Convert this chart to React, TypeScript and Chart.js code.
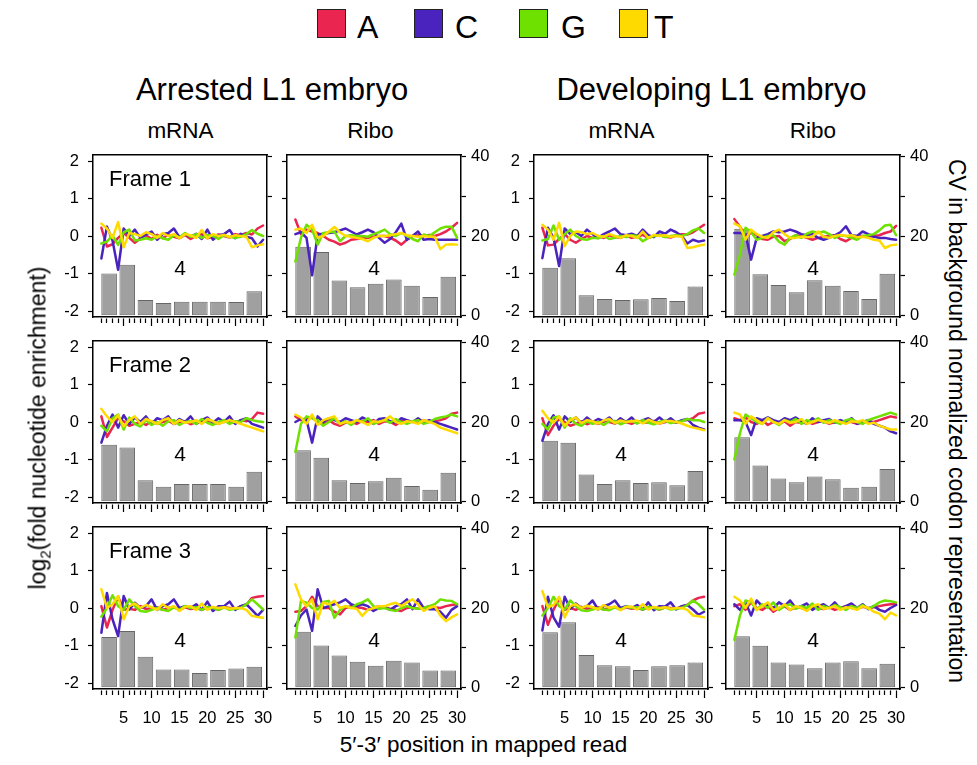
import React, { useEffect, useRef } from 'react';
import { Chart, registerables } from 'chart.js';

Chart.register(...registerables);

const FONT = "'Liberation Sans', Arial, Helvetica, sans-serif";

// Positions along the mapped read (5'->3')
const positions = [1, 2, 3, 4, 5, 6, 7, 8, 9, 10, 11, 12, 13, 14, 15, 16, 17, 18, 19, 20, 21, 22, 23, 24, 25, 26, 27, 28, 29, 30];
// Codon windows used for the CV bars
const codonWindows = [1, 2, 3, 4, 5, 6, 7, 8, 9];
const positionTickLabels = [5, 10, 15, 20, 25, 30];
const log2Ticks = [-2, -1, 0, 1, 2];
const cvTicks = [0, 10, 20, 30, 40];
const cvTickLabels = [0, 20, 40];

const nucleotides = ['A', 'C', 'G', 'T'];
const nucleotideColors = ['#e92550', '#4a23be', '#6ee100', '#ffda00'];

const groupTitles = ['Arrested L1 embryo', 'Developing L1 embryo'];
const libraryNames = ['mRNA', 'Ribo', 'mRNA', 'Ribo'];
const frameNames = ['Frame 1', 'Frame 2', 'Frame 3'];
const windowLabel = '4';

// ---- Arrested L1, mRNA ----
const arrMrna1A = [0.22, -0.28, -0.22, -0.05, 0.08, -0.05, -0.18, -0.06, 0.02, -0.08, 0.03, -0.06, 0.04, -0.02, -0.06, 0.03, -0.08, 0.0, 0.05, -0.06, -0.02, 0.04, 0.0, -0.04, 0.05, 0.02, 0.08, 0.04, 0.2, 0.28];
const arrMrna1C = [-0.6, 0.25, -0.12, -0.9, 0.2, 0.0, 0.17, -0.05, 0.04, 0.12, -0.1, 0.05, 0.08, 0.2, -0.03, 0.05, -0.02, 0.06, -0.08, 0.17, -0.1, 0.02, 0.05, 0.16, -0.06, 0.06, -0.02, -0.06, -0.28, -0.1];
const arrMrna1G = [-0.2, -0.15, 0.02, -0.24, 0.1, 0.17, -0.12, -0.1, -0.06, -0.1, 0.0, -0.06, -0.1, 0.02, -0.04, 0.08, -0.02, 0.05, -0.05, 0.03, 0.0, -0.08, 0.02, -0.03, -0.05, -0.02, 0.05, 0.16, 0.06, 0.0];
const arrMrna1T = [0.33, 0.2, -0.05, 0.37, -0.3, 0.08, 0.05, 0.0, 0.1, 0.05, -0.05, 0.08, 0.0, 0.05, -0.06, 0.05, 0.02, -0.05, 0.16, -0.06, 0.05, 0.0, 0.03, -0.03, 0.02, 0.0, -0.02, -0.3, -0.25, -0.22];
const arrMrna1Cv = [10.6, 12.8, 3.95, 3.2, 3.5, 3.5, 3.5, 3.4, 6.15];

const arrMrna2A = [0.15, -0.4, -0.15, 0.1, 0.02, -0.1, -0.05, 0.0, -0.08, 0.02, -0.05, 0.0, 0.03, -0.05, 0.0, 0.02, -0.06, 0.0, -0.02, 0.03, 0.0, -0.05, 0.02, 0.0, -0.03, 0.05, 0.02, 0.08, 0.25, 0.22];
const arrMrna2C = [-0.55, -0.1, 0.2, -0.15, 0.18, -0.05, 0.12, 0.0, 0.15, -0.05, 0.1, 0.05, 0.15, -0.05, 0.08, 0.0, 0.15, -0.05, 0.05, 0.12, -0.02, 0.1, 0.0, 0.15, -0.05, 0.05, 0.1, -0.05, -0.1, -0.15];
const arrMrna2G = [-0.1, -0.25, 0.1, 0.2, -0.2, 0.12, -0.05, -0.12, 0.05, -0.08, 0.0, -0.1, 0.02, 0.05, -0.08, 0.0, 0.02, -0.05, 0.08, -0.02, -0.08, 0.0, 0.05, -0.05, 0.02, 0.0, 0.1, 0.05, 0.02, 0.0];
const arrMrna2T = [0.35, 0.15, 0.0, 0.18, -0.12, 0.05, 0.15, -0.05, 0.08, 0.02, -0.05, 0.05, 0.1, -0.05, 0.05, -0.02, 0.0, 0.05, -0.05, 0.08, 0.02, -0.05, 0.0, 0.05, 0.0, -0.05, -0.1, -0.15, -0.2, -0.25];
const arrMrna2Cv = [14.3, 13.6, 5.35, 3.75, 4.4, 4.4, 4.4, 3.75, 7.5];

const arrMrna3A = [0.05, -0.52, -0.05, 0.3, -0.05, -0.02, -0.05, 0.05, -0.03, 0.0, 0.02, -0.05, 0.0, 0.03, -0.05, 0.02, -0.03, 0.0, -0.05, 0.02, 0.0, -0.05, 0.03, 0.0, -0.03, 0.05, 0.08, 0.27, 0.3, 0.32];
const arrMrna3C = [-0.66, 0.4, -0.3, -0.75, 0.32, -0.04, 0.14, 0.0, 0.05, 0.23, -0.05, 0.05, 0.1, 0.23, 0.0, 0.05, 0.0, 0.1, -0.05, 0.17, -0.08, 0.05, 0.05, 0.17, -0.05, 0.05, 0.1, -0.05, -0.21, -0.05];
const arrMrna3G = [-0.23, 0.0, 0.34, 0.05, -0.05, 0.23, 0.05, -0.08, -0.1, -0.05, 0.0, -0.05, -0.08, 0.02, -0.05, 0.05, 0.0, 0.02, -0.05, 0.03, 0.0, -0.05, 0.02, -0.05, -0.02, 0.0, 0.1, 0.23, 0.1, -0.04];
const arrMrna3T = [0.5, 0.0, 0.1, 0.32, -0.3, 0.05, 0.12, 0.0, 0.08, 0.02, -0.05, 0.1, 0.0, 0.05, -0.08, 0.03, 0.05, -0.05, 0.12, -0.05, 0.03, 0.0, 0.02, -0.02, 0.0, 0.0, -0.05, -0.21, -0.24, -0.26];
const arrMrna3Cv = [12.7, 14.2, 7.75, 4.55, 4.55, 3.7, 4.4, 4.8, 5.25];

// ---- Arrested L1, Ribo ----
const arrRibo1A = [0.44, 0.05, 0.17, 0.12, 0.08, 0.0, -0.1, -0.15, -0.23, -0.18, -0.1, -0.08, -0.06, -0.05, -0.02, 0.0, 0.0, -0.05, -0.12, -0.23, -0.1, 0.0, 0.02, 0.0, 0.03, 0.0, 0.05, 0.12, 0.22, 0.35];
const arrRibo1C = [0.05, 0.1, -0.05, -1.05, 0.04, 0.06, 0.08, 0.1, 0.15, 0.2, 0.12, 0.04, 0.1, 0.17, 0.1, -0.05, -0.18, -0.08, 0.1, 0.33, -0.1, 0.0, 0.12, -0.1, -0.08, -0.1, -0.1, -0.1, -0.1, -0.1];
const arrRibo1G = [-0.68, -0.05, 0.3, 0.17, -0.23, 0.08, 0.1, 0.12, -0.14, 0.0, 0.02, 0.0, 0.0, -0.02, 0.05, 0.1, 0.17, 0.05, 0.0, 0.08, 0.0, -0.08, -0.14, 0.04, 0.0, 0.1, 0.2, 0.25, 0.25, -0.05];
const arrRibo1T = [0.17, 0.2, 0.08, 0.3, -0.05, 0.0, 0.12, 0.24, 0.1, 0.0, -0.02, -0.05, -0.08, -0.14, -0.05, 0.0, 0.0, 0.02, 0.05, 0.08, 0.02, 0.0, -0.02, 0.0, -0.02, -0.02, -0.35, -0.23, -0.22, -0.23];
const arrRibo1Cv = [17.3, 16.0, 8.8, 7.15, 8.0, 9.05, 7.5, 4.7, 9.75];

const arrRibo2A = [0.15, 0.05, 0.1, 0.12, 0.0, -0.05, 0.05, -0.05, -0.1, -0.02, 0.0, -0.05, 0.03, 0.0, 0.05, -0.05, 0.02, 0.0, -0.08, 0.03, 0.0, 0.02, -0.03, 0.05, 0.0, 0.02, 0.05, 0.1, 0.22, 0.25];
const arrRibo2C = [0.0, 0.08, 0.05, -0.55, 0.15, 0.0, 0.1, 0.05, 0.0, 0.1, 0.05, 0.0, 0.12, 0.05, -0.05, 0.08, 0.1, 0.02, -0.02, 0.1, 0.05, 0.0, 0.1, -0.02, 0.05, 0.0, -0.05, -0.1, -0.15, -0.2];
const arrRibo2G = [-0.8, -0.05, 0.15, 0.1, 0.05, -0.1, 0.0, 0.1, -0.05, 0.02, -0.08, 0.05, 0.0, 0.1, -0.05, 0.0, 0.05, -0.02, 0.08, 0.0, -0.05, 0.02, 0.05, -0.05, 0.0, 0.08, 0.12, 0.15, 0.2, 0.15];
const arrRibo2T = [0.2, 0.12, -0.05, 0.2, -0.08, 0.05, 0.1, 0.15, -0.05, 0.0, -0.02, 0.05, 0.0, -0.08, 0.02, 0.0, 0.05, 0.15, 0.0, -0.05, 0.02, 0.0, -0.05, 0.05, 0.0, -0.05, -0.15, -0.2, -0.25, -0.3];
const arrRibo2Cv = [12.9, 11.0, 5.35, 4.7, 5.15, 6.0, 3.9, 3.0, 7.25];

const arrRibo3A = [-0.1, -0.08, 0.05, 0.3, 0.05, 0.0, 0.0, -0.1, -0.17, 0.0, 0.05, 0.02, 0.0, -0.05, 0.0, 0.05, 0.02, -0.02, -0.05, -0.08, 0.0, 0.02, -0.02, 0.0, 0.05, 0.02, 0.0, 0.05, 0.08, 0.1];
const arrRibo3C = [-0.48, -0.2, -0.04, -0.61, 0.5, 0.0, 0.05, 0.1, 0.15, 0.23, 0.1, 0.05, 0.1, 0.05, -0.08, 0.0, 0.02, -0.05, 0.05, 0.1, 0.23, -0.03, 0.23, 0.0, -0.03, -0.03, -0.1, -0.26, -0.05, 0.05];
const arrRibo3G = [-0.79, 0.19, 0.14, 0.0, -0.04, 0.16, 0.19, -0.26, -0.05, 0.05, 0.0, 0.1, 0.15, 0.23, 0.05, -0.02, 0.0, -0.05, -0.08, 0.0, 0.05, 0.0, -0.02, 0.0, 0.05, 0.1, 0.23, 0.2, 0.19, 0.1];
const arrRibo3T = [0.63, 0.23, 0.05, 0.23, -0.3, 0.14, 0.1, 0.19, 0.0, 0.05, 0.0, -0.02, -0.21, -0.05, 0.0, 0.05, 0.05, 0.1, 0.14, 0.05, 0.15, 0.23, 0.1, -0.08, 0.0, 0.05, -0.2, -0.35, -0.25, -0.17];
const arrRibo3Cv = [14.05, 10.6, 8.1, 6.5, 5.5, 6.75, 6.3, 4.3, 4.3];

// ---- Developing L1, mRNA ----
const devMrna1A = [0.22, -0.25, -0.23, -0.08, 0.05, -0.1, -0.18, -0.08, 0.0, -0.05, 0.0, -0.05, 0.02, -0.03, -0.05, 0.02, -0.05, -0.02, 0.03, -0.05, 0.0, 0.03, -0.02, -0.04, 0.02, 0.05, 0.04, 0.1, 0.2, 0.3];
const devMrna1C = [-0.59, 0.22, -0.05, -0.8, 0.2, 0.05, 0.1, 0.0, 0.17, 0.05, -0.05, 0.05, 0.12, 0.2, 0.05, 0.02, 0.06, 0.0, 0.17, 0.02, -0.03, 0.12, 0.06, 0.17, 0.1, 0.0, -0.2, -0.1, -0.15, -0.12];
const devMrna1G = [-0.12, -0.08, 0.28, -0.1, 0.05, 0.17, 0.0, -0.08, -0.1, -0.05, -0.06, 0.0, -0.08, -0.05, 0.0, -0.03, 0.02, 0.0, -0.14, -0.05, 0.0, 0.02, -0.03, 0.0, 0.02, 0.0, 0.05, 0.15, 0.2, 0.08];
const devMrna1T = [0.3, 0.17, -0.1, 0.35, -0.27, 0.0, 0.12, 0.1, 0.05, 0.08, 0.0, -0.02, 0.05, 0.0, -0.05, 0.02, 0.0, -0.05, 0.12, -0.05, 0.03, 0.0, 0.02, -0.02, 0.0, -0.02, -0.32, -0.3, -0.26, -0.23];
const devMrna1Cv = [12.0, 14.4, 5.1, 4.2, 3.95, 4.1, 4.45, 3.7, 7.3];

const devMrna2A = [0.1, -0.35, -0.1, 0.08, 0.0, -0.1, -0.05, 0.02, -0.06, 0.0, -0.05, 0.02, 0.0, -0.04, 0.03, 0.0, -0.05, 0.02, 0.0, -0.02, 0.03, -0.04, 0.0, 0.02, -0.02, 0.03, 0.05, 0.1, 0.22, 0.25];
const devMrna2C = [-0.5, -0.05, 0.18, -0.2, 0.15, 0.0, 0.12, -0.03, 0.12, 0.0, 0.08, 0.02, 0.12, -0.03, 0.1, 0.0, 0.12, -0.03, 0.05, 0.1, 0.0, 0.12, 0.0, 0.1, -0.02, 0.05, 0.08, -0.08, -0.15, -0.2];
const devMrna2G = [-0.05, -0.2, 0.12, 0.15, -0.15, 0.1, -0.05, -0.1, 0.02, -0.05, 0.0, -0.08, 0.02, 0.03, -0.06, 0.0, 0.03, -0.04, 0.05, -0.02, -0.06, 0.0, 0.04, -0.03, 0.0, 0.02, 0.08, 0.05, 0.05, 0.0];
const devMrna2T = [0.3, 0.1, -0.02, 0.15, -0.1, 0.05, 0.12, -0.03, 0.05, 0.02, -0.04, 0.04, 0.08, -0.03, 0.04, 0.0, 0.02, 0.04, -0.04, 0.06, 0.0, -0.04, 0.02, 0.03, 0.0, -0.04, -0.1, -0.15, -0.18, -0.22];
const devMrna2Cv = [15.3, 14.8, 6.8, 4.4, 5.35, 4.7, 4.9, 4.1, 7.7];

const devMrna3A = [0.05, -0.45, -0.05, 0.25, -0.05, 0.0, -0.05, 0.03, -0.02, 0.0, 0.02, -0.04, 0.0, 0.03, -0.04, 0.02, -0.02, 0.0, -0.04, 0.02, 0.0, -0.04, 0.02, 0.0, -0.02, 0.04, 0.08, 0.2, 0.27, 0.3];
const devMrna3C = [-0.6, 0.3, -0.25, -0.5, 0.3, -0.02, 0.12, 0.0, 0.05, 0.2, -0.04, 0.05, 0.1, 0.2, 0.0, 0.05, 0.0, 0.08, -0.04, 0.15, -0.06, 0.05, 0.04, 0.15, -0.04, 0.05, 0.08, -0.04, -0.18, -0.1];
const devMrna3G = [-0.2, 0.0, 0.3, 0.05, -0.04, 0.2, 0.05, -0.06, -0.08, -0.04, 0.0, -0.04, -0.06, 0.02, -0.04, 0.04, 0.0, 0.02, -0.04, 0.03, 0.0, -0.04, 0.02, -0.04, -0.02, 0.0, 0.08, 0.2, 0.1, -0.05];
const devMrna3T = [0.45, 0.02, 0.08, 0.3, -0.25, 0.05, 0.1, 0.0, 0.06, 0.02, -0.04, 0.08, 0.0, 0.04, -0.06, 0.03, 0.04, -0.04, 0.1, -0.04, 0.03, 0.0, 0.02, -0.02, 0.0, 0.0, -0.05, -0.2, -0.22, -0.25];
const devMrna3Cv = [13.9, 16.4, 8.2, 5.6, 5.35, 4.4, 5.35, 5.6, 6.3];

// ---- Developing L1, Ribo ----
const devRibo1A = [0.45, 0.25, 0.02, 0.08, 0.03, -0.08, -0.1, -0.02, 0.0, -0.14, -0.08, 0.02, 0.0, -0.05, -0.1, -0.05, -0.02, 0.0, 0.02, -0.08, -0.14, -0.05, 0.0, 0.0, -0.02, 0.0, 0.02, 0.08, 0.12, 0.27];
const devRibo1C = [0.08, 0.08, 0.05, -0.63, -0.05, 0.0, 0.05, 0.12, 0.1, 0.12, 0.17, 0.12, 0.05, 0.02, 0.05, -0.05, -0.1, -0.05, 0.02, 0.1, 0.26, 0.02, 0.0, 0.12, 0.05, -0.02, -0.05, -0.05, -0.08, -0.1];
const devRibo1G = [-1.03, -0.5, 0.22, 0.1, -0.1, -0.05, 0.0, 0.02, -0.15, -0.23, -0.05, 0.02, -0.05, 0.06, 0.12, 0.08, 0.12, 0.05, -0.05, 0.02, 0.0, -0.05, -0.1, 0.0, 0.02, 0.05, 0.15, 0.28, 0.3, 0.02];
const devRibo1T = [0.33, 0.26, -0.1, 0.17, 0.05, -0.02, -0.05, 0.1, 0.17, 0.05, -0.05, -0.05, -0.02, -0.03, -0.02, 0.12, -0.02, -0.05, 0.0, 0.03, 0.0, 0.02, -0.03, -0.02, -0.05, -0.1, -0.12, -0.32, -0.25, -0.23];
const devRibo1Cv = [21.8, 10.4, 7.7, 5.9, 8.9, 7.5, 6.2, 4.2, 10.5];

const devRibo2A = [0.1, 0.05, 0.12, 0.0, -0.05, 0.05, -0.08, 0.0, -0.05, 0.02, -0.1, 0.0, -0.03, 0.02, -0.05, 0.0, 0.03, -0.05, 0.0, -0.03, 0.02, 0.0, -0.05, 0.0, 0.02, 0.0, 0.05, 0.1, 0.15, 0.12];
const devRibo2C = [0.05, 0.05, 0.0, -0.35, 0.1, 0.05, 0.12, 0.05, 0.0, 0.1, 0.05, 0.12, 0.02, -0.05, 0.1, 0.0, 0.05, 0.08, -0.02, 0.05, 0.0, 0.1, -0.05, 0.0, 0.05, -0.05, -0.1, -0.15, -0.25, -0.3];
const devRibo2G = [-1.0, -0.3, 0.2, 0.1, 0.0, -0.05, 0.1, 0.0, -0.08, 0.05, 0.0, 0.08, -0.05, 0.05, 0.0, 0.1, -0.02, 0.05, 0.0, -0.05, 0.05, 0.08, 0.0, -0.05, 0.05, 0.1, 0.15, 0.2, 0.25, 0.2];
const devRibo2T = [0.25, 0.2, -0.05, 0.15, 0.05, -0.05, 0.1, 0.0, -0.05, 0.05, -0.02, 0.0, 0.08, -0.05, 0.0, 0.05, 0.02, -0.03, 0.05, 0.0, -0.05, 0.02, 0.0, 0.05, -0.05, -0.02, -0.1, -0.15, -0.2, -0.2];
const devRibo2Cv = [16.2, 9.1, 5.8, 4.9, 6.3, 5.6, 3.5, 3.75, 8.2];

const devRibo3A = [0.05, 0.1, -0.05, 0.15, 0.0, -0.05, 0.05, -0.1, 0.0, 0.05, -0.05, 0.02, 0.0, -0.05, 0.05, 0.0, -0.03, 0.02, -0.05, 0.0, 0.05, 0.0, -0.02, 0.03, 0.0, 0.02, 0.05, 0.08, 0.1, 0.1];
const devRibo3C = [0.1, -0.05, 0.15, -0.2, 0.2, 0.05, 0.1, 0.0, 0.15, 0.05, 0.2, 0.0, 0.05, 0.12, -0.05, 0.05, 0.1, 0.0, 0.15, -0.02, 0.05, 0.12, 0.0, 0.1, -0.03, 0.05, -0.05, -0.1, 0.0, 0.08];
const devRibo3G = [-0.85, -0.2, 0.2, 0.15, -0.05, 0.1, 0.0, 0.15, -0.05, 0.05, 0.1, -0.02, 0.05, 0.0, 0.12, -0.05, 0.05, 0.0, 0.08, 0.02, -0.05, 0.05, 0.0, 0.08, -0.02, 0.05, 0.15, 0.2, 0.18, 0.15];
const devRibo3T = [0.3, 0.2, 0.0, 0.25, -0.05, 0.05, 0.15, -0.05, 0.0, 0.1, -0.05, 0.05, 0.0, -0.08, 0.05, 0.1, -0.02, 0.0, 0.05, -0.05, 0.02, 0.0, -0.05, 0.05, 0.0, -0.1, -0.15, -0.3, -0.12, -0.2];
const devRibo3Cv = [12.9, 10.5, 6.3, 5.8, 4.9, 6.3, 6.6, 4.9, 6.0];

type PanelSpec = { row: number; col: number; lines: number[][]; cv: number[] };

const panels: PanelSpec[] = [
  { row: 0, col: 0, lines: [arrMrna1A, arrMrna1C, arrMrna1G, arrMrna1T], cv: arrMrna1Cv },
  { row: 0, col: 1, lines: [arrRibo1A, arrRibo1C, arrRibo1G, arrRibo1T], cv: arrRibo1Cv },
  { row: 0, col: 2, lines: [devMrna1A, devMrna1C, devMrna1G, devMrna1T], cv: devMrna1Cv },
  { row: 0, col: 3, lines: [devRibo1A, devRibo1C, devRibo1G, devRibo1T], cv: devRibo1Cv },
  { row: 1, col: 0, lines: [arrMrna2A, arrMrna2C, arrMrna2G, arrMrna2T], cv: arrMrna2Cv },
  { row: 1, col: 1, lines: [arrRibo2A, arrRibo2C, arrRibo2G, arrRibo2T], cv: arrRibo2Cv },
  { row: 1, col: 2, lines: [devMrna2A, devMrna2C, devMrna2G, devMrna2T], cv: devMrna2Cv },
  { row: 1, col: 3, lines: [devRibo2A, devRibo2C, devRibo2G, devRibo2T], cv: devRibo2Cv },
  { row: 2, col: 0, lines: [arrMrna3A, arrMrna3C, arrMrna3G, arrMrna3T], cv: arrMrna3Cv },
  { row: 2, col: 1, lines: [arrRibo3A, arrRibo3C, arrRibo3G, arrRibo3T], cv: arrRibo3Cv },
  { row: 2, col: 2, lines: [devMrna3A, devMrna3C, devMrna3G, devMrna3T], cv: devMrna3Cv },
  { row: 2, col: 3, lines: [devRibo3A, devRibo3C, devRibo3G, devRibo3T], cv: devRibo3Cv },
];

// Page geometry of the panel frames
const FRAME_LEFT = [93, 287, 534, 726];
const FRAME_TOP = [155, 341, 527];
const FRAME_W = 174;
const FRAME_H = 162;
const PAD_L = 40;
const PAD_R = 40;
const PAD_T = 22;
const PAD_B = 42;

function PanelChart({ spec }: { spec: PanelSpec }) {
  const ref = useRef<HTMLCanvasElement | null>(null);
  const W = PAD_L + FRAME_W + PAD_R;
  const H = PAD_T + FRAME_H + PAD_B;

  useEffect(() => {
    const canvas = ref.current;
    if (!canvas) return;
    const leftLabels = spec.col % 2 === 0;
    const rightLabels = spec.col % 2 === 1;
    const bottomLabels = spec.row === 2;
    const tickFont = { family: FONT, size: 16.5 };
    const black = '#000';

    const chart = new Chart(canvas, {
      data: {
        datasets: [
          {
            type: 'bar',
            label: 'CV',
            data: spec.cv.map((v, i) => ({ x: codonWindows[i], y: v })),
            xAxisID: 'xw',
            yAxisID: 'cv',
            backgroundColor: '#a0a0a0',
            borderColor: '#666666',
            borderWidth: 1,
            borderSkipped: false,
            grouped: false,
            barPercentage: 0.86,
            categoryPercentage: 1,
            order: 10,
          },
          ...nucleotides.map((n, k) => ({
            type: 'line',
            label: n,
            data: spec.lines[k].map((v, i) => ({ x: positions[i], y: v })),
            xAxisID: 'x',
            yAxisID: 'y',
            borderColor: nucleotideColors[k],
            backgroundColor: nucleotideColors[k],
            borderWidth: 2.5,
            pointRadius: 0,
            tension: 0,
            borderCapStyle: 'round',
            borderJoinStyle: 'round',
            order: 4 - k,
          })),
        ],
      } as any,
      options: {
        animation: false,
        responsive: false,
        events: [],
        layout: { padding: 0 },
        plugins: { legend: { display: false }, tooltip: { enabled: false } },
        scales: {
          x: {
            type: 'linear',
            axis: 'x',
            position: 'bottom',
            min: -0.5,
            max: 30.7,
            afterBuildTicks: (s: any) => {
              s.ticks = positions.map((v) => ({ value: v }));
            },
            afterFit: (s: any) => {
              s.height = PAD_B;
            },
            grid: {
              drawOnChartArea: false,
              color: black,
              tickColor: black,
              tickLength: 9,
              tickWidth: 1.2,
              tickBorderDash: (ctx: any) =>
                ctx.tick && positionTickLabels.includes(ctx.tick.value) ? [0, 1, 7.5, 50] : [0, 1, 4.5, 50],
            },
            border: { color: black, width: 1.5 },
            ticks: {
              display: bottomLabels,
              autoSkip: false,
              maxRotation: 0,
              minRotation: 0,
              padding: 11,
              color: black,
              font: tickFont,
              callback: (v: any) => (positionTickLabels.includes(Number(v)) ? String(v) : ''),
            },
          },
          // codon-window axis for the CV bars: laid out over the full plot width, draws nothing
          xw: {
            type: 'linear',
            axis: 'x',
            position: 'bottom',
            display: true,
            offset: false,
            min: 0.113,
            max: 9.7,
            afterBuildTicks: (s: any) => {
              s.ticks = [];
            },
            afterFit: (s: any) => {
              s.height = 0;
            },
            grid: { display: false, drawTicks: false, offset: false },
            border: { display: false },
            ticks: { display: false },
          },
          frameTop: {
            type: 'linear',
            axis: 'x',
            position: 'top',
            min: 0,
            max: 1,
            afterBuildTicks: (s: any) => {
              s.ticks = [{ value: 0 }];
            },
            afterFit: (s: any) => {
              s.height = PAD_T;
            },
            grid: { display: false, drawTicks: false },
            border: { color: black, width: 1.5 },
            ticks: { display: false },
          },
          y: {
            type: 'linear',
            position: 'left',
            min: -2.16,
            max: 2.16,
            afterBuildTicks: (s: any) => {
              s.ticks = log2Ticks.map((v) => ({ value: v }));
            },
            afterFit: (s: any) => {
              s.width = PAD_L;
            },
            grid: { drawOnChartArea: false, color: black, tickColor: black, tickLength: 5, tickWidth: 1.2 },
            border: { color: black, width: 1.5 },
            ticks: { display: leftLabels, padding: 9, color: black, font: tickFont, callback: (v: any) => String(v) },
          },
          cv: {
            type: 'linear',
            position: 'right',
            min: -0.34,
            max: 40.34,
            afterBuildTicks: (s: any) => {
              s.ticks = cvTicks.map((v) => ({ value: v }));
            },
            afterFit: (s: any) => {
              s.width = PAD_R;
            },
            grid: { drawOnChartArea: false, color: black, tickColor: black, tickLength: 5, tickWidth: 1.2 },
            border: { color: black, width: 1.5 },
            ticks: {
              display: rightLabels,
              padding: 5,
              color: black,
              font: tickFont,
              callback: (v: any) => (cvTickLabels.includes(Number(v)) ? String(v) : ''),
            },
          },
        },
      } as any,
    });
    return () => chart.destroy();
  }, [spec]);

  return (
    <canvas
      ref={ref}
      width={W}
      height={H}
      style={{
        position: 'absolute',
        left: FRAME_LEFT[spec.col] - PAD_L,
        top: FRAME_TOP[spec.row] - PAD_T,
        width: W,
        height: H,
      }}
    />
  );
}

// Text placed by its baseline
function Txt({ x, y, size, align = 'left', children }: any) {
  return (
    <div
      style={{
        position: 'absolute',
        left: x,
        top: y - 0.8465 * size,
        fontSize: size,
        lineHeight: `${size}px`,
        fontFamily: FONT,
        color: '#000',
        whiteSpace: 'nowrap',
        transform: align === 'center' ? 'translateX(-50%)' : undefined,
      }}
    >
      {children}
    </div>
  );
}

function RotatedTxt({ cx, cy, size, angle, children }: any) {
  return (
    <div
      style={{
        position: 'absolute',
        left: cx,
        top: cy,
        fontSize: size,
        lineHeight: `${size}px`,
        fontFamily: FONT,
        color: '#000',
        whiteSpace: 'nowrap',
        transform: `translate(-50%, -50%) rotate(${angle}deg)`,
      }}
    >
      {children}
    </div>
  );
}

const legendSquareLeft = [317, 414, 519, 619];
const legendTextLeft = [357, 455, 561, 654];
const titleCenters = [272, 711.5];
const libraryCenters = [180.5, 370.5, 621.5, 813];

export default function App() {
  return (
    <div
      style={{
        position: 'absolute',
        left: 0,
        top: 0,
        width: 977,
        height: 765,
        background: '#fff',
        overflow: 'hidden',
      }}
    >
      {nucleotides.map((n, k) => (
        <React.Fragment key={n}>
          <div
            style={{
              position: 'absolute',
              left: legendSquareLeft[k],
              top: 9,
              width: 29,
              height: 29,
              boxSizing: 'border-box',
              background: nucleotideColors[k],
              border: '1px solid #222',
            }}
          />
          <Txt x={legendTextLeft[k]} y={38} size={32}>
            {n}
          </Txt>
        </React.Fragment>
      ))}

      {groupTitles.map((t, i) => (
        <Txt key={t} x={titleCenters[i]} y={100} size={31} align="center">
          {t}
        </Txt>
      ))}

      {libraryNames.map((t, i) => (
        <Txt key={i} x={libraryCenters[i]} y={139} size={22.5} align="center">
          {t}
        </Txt>
      ))}

      {panels.map((p) => (
        <PanelChart key={`${p.row}-${p.col}`} spec={p} />
      ))}

      {frameNames.map((f, r) => (
        <Txt key={f} x={FRAME_LEFT[0] + 16} y={FRAME_TOP[r] + 32} size={22}>
          {f}
        </Txt>
      ))}

      {panels.map((p) => (
        <Txt
          key={`w-${p.row}-${p.col}`}
          x={FRAME_LEFT[p.col] + FRAME_W / 2}
          y={FRAME_TOP[p.row] + 120}
          size={21}
          align="center"
        >
          {windowLabel}
        </Txt>
      ))}

      <RotatedTxt cx={38} cy={428} size={23} angle={-90}>
        log
        <span style={{ fontSize: 15, position: 'relative', top: 5, lineHeight: 0 }}>2</span>
        (fold nucleotide enrichment)
      </RotatedTxt>

      <RotatedTxt cx={956} cy={421} size={23} angle={90}>
        CV in background normalized codon representation
      </RotatedTxt>

      <Txt x={483.5} y={753} size={22.5} align="center">
        5′-3′ position in mapped read
      </Txt>
    </div>
  );
}
